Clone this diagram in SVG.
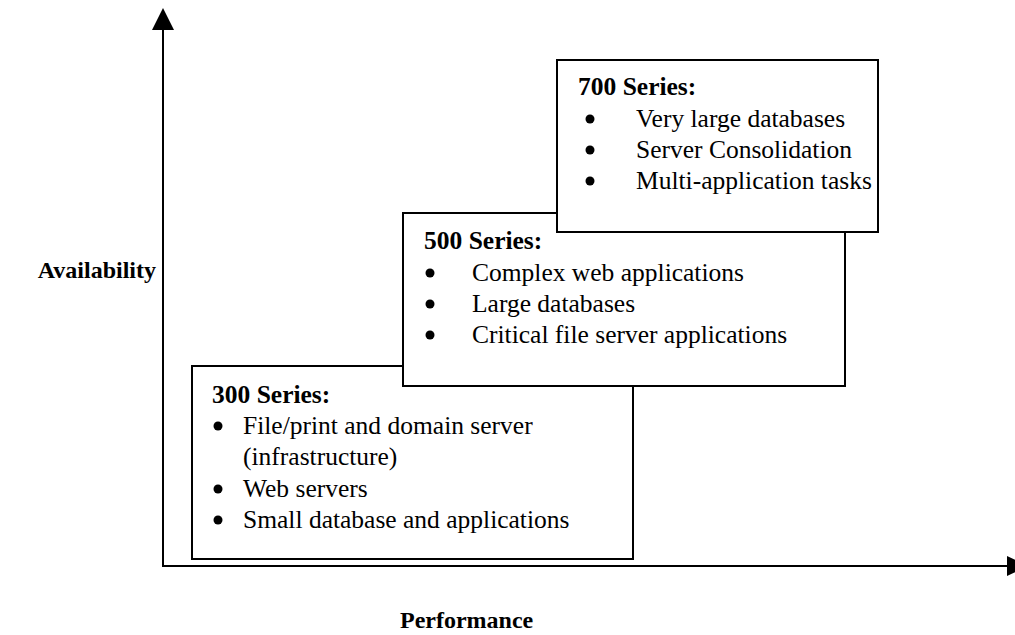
<svg xmlns="http://www.w3.org/2000/svg" width="1015" height="635" viewBox="0 0 1015 635">
<style>
.box{fill:#fff;stroke:#000;stroke-width:2}
.axis{stroke:#000;stroke-width:2;fill:none}
.t{font-family:"Liberation Serif","Times New Roman",serif;font-size:25.5px;fill:#000}
.h{font-family:"Liberation Serif","Times New Roman",serif;font-size:25.5px;font-weight:bold;fill:#000}
.lab{font-family:"Liberation Serif","Times New Roman",serif;font-size:24px;font-weight:bold;fill:#000}
.b{fill:#000}
</style>
<rect width="1015" height="635" fill="#fff"/>
<g id="connectors">
<line class="axis" x1="163" y1="28" x2="163" y2="567"/>
<polygon class="b" points="163,8 152,30 174,30"/>
<line class="axis" x1="162" y1="566" x2="1008" y2="566"/>
<polygon class="b" points="1028,566 1007,556 1007,576"/>
</g>
<g id="s300">
<rect class="box" x="192" y="366" width="441" height="193"/>
<text class="h" x="212" y="403">300 Series:</text>
<circle class="b" cx="218" cy="426" r="4.5"/>
<text class="t" x="243" y="434">File/print and domain server</text>
<text class="t" x="243" y="465">(infrastructure)</text>
<circle class="b" cx="218" cy="489" r="4.5"/>
<text class="t" x="243" y="497">Web servers</text>
<circle class="b" cx="218" cy="520" r="4.5"/>
<text class="t" x="243" y="528">Small database and applications</text>
</g>
<g id="s500">
<rect class="box" x="403" y="213" width="442" height="173"/>
<text class="h" x="424" y="249">500 Series:</text>
<circle class="b" cx="430" cy="273" r="4.5"/>
<text class="t" x="472" y="281">Complex web applications</text>
<circle class="b" cx="430" cy="304" r="4.5"/>
<text class="t" x="472" y="312">Large databases</text>
<circle class="b" cx="430" cy="335" r="4.5"/>
<text class="t" x="472" y="343">Critical file server applications</text>
</g>
<g id="s700">
<rect class="box" x="557" y="60" width="321" height="172"/>
<text class="h" x="578" y="95">700 Series:</text>
<circle class="b" cx="590" cy="119" r="4.5"/>
<text class="t" x="636" y="127">Very large databases</text>
<circle class="b" cx="590" cy="150" r="4.5"/>
<text class="t" x="636" y="158">Server Consolidation</text>
<circle class="b" cx="590" cy="181" r="4.5"/>
<text class="t" x="636" y="189">Multi-application tasks</text>
</g>
<g id="labels">
<text class="lab" x="156" y="278" text-anchor="end">Availability</text>
<text class="lab" x="400" y="628">Performance</text>
</g>
</svg>
